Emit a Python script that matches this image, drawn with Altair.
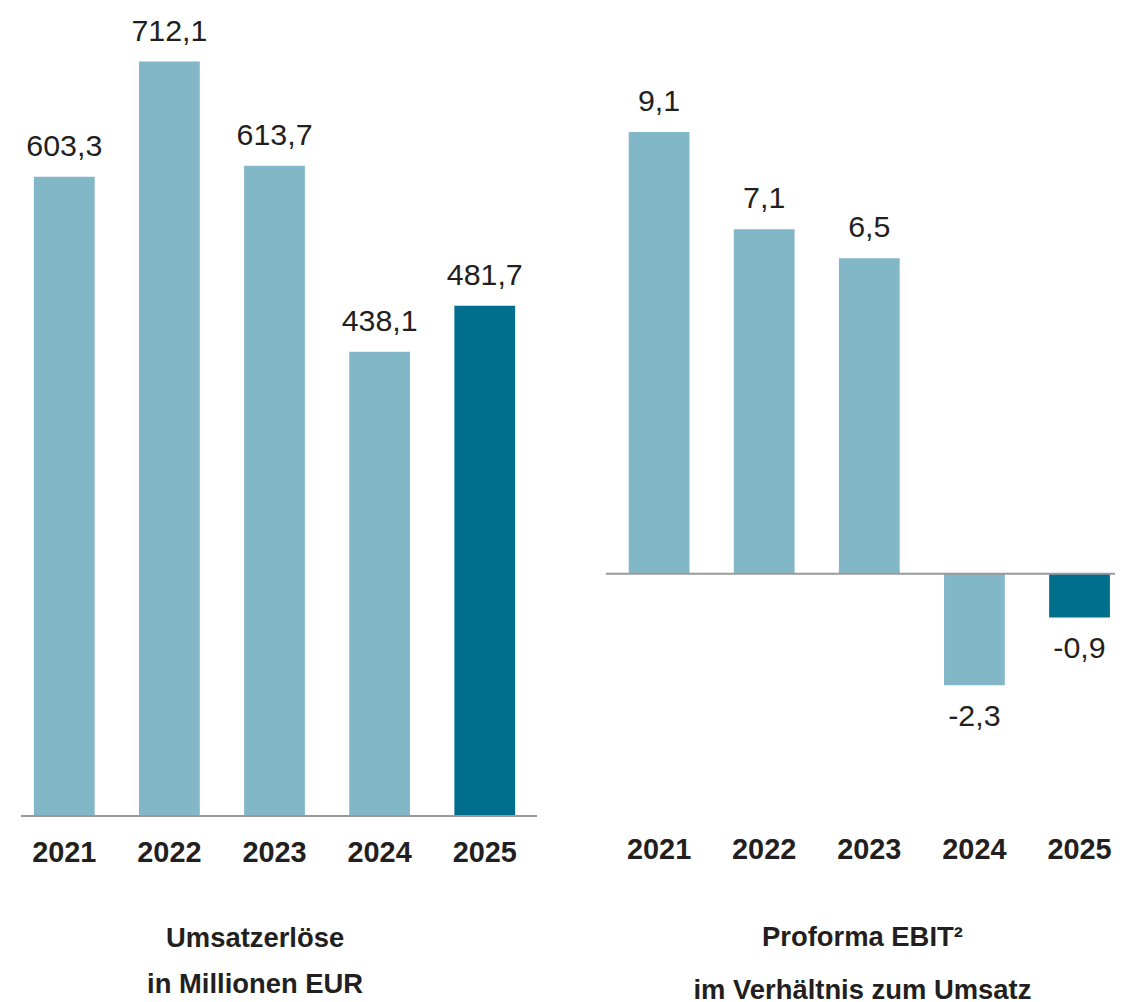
import altair as alt
import pandas as pd

# ---- data ----
years = ["2021", "2022", "2023", "2024", "2025"]
umsatz = [603.3, 712.1, 613.7, 438.1, 481.7]
ebit = [9.1, 7.1, 6.5, -2.3, -0.9]
title_left = ["Umsatzerlöse", "in Millionen EUR"]
title_right = ["Proforma EBIT²", "im Verhältnis zum Umsatz"]

LIGHT = "#82b7c7"
DARK = "#006f8e"
TXT = "#231f20"
LINE = "#9a9a9a"
FONT = "Liberation Sans"


def fmt(v):
    return f"{v:.1f}".replace(".", ",")


df_l = pd.DataFrame({"year": years, "v": umsatz, "lab": [fmt(v) for v in umsatz]})
df_r = pd.DataFrame({"year": years, "v": ebit, "lab": [fmt(v) for v in ebit]})

H = 809


def panel(df, width, domain, pinner, pouter, align, label_pad, titles, tdx, toff, tlh):
    xs = alt.X(
        "year:N",
        sort=years,
        scale=alt.Scale(paddingInner=pinner, paddingOuter=pouter, align=align),
        axis=alt.Axis(
            title=None, domain=False, ticks=False, labelAngle=0,
            labelFont=FONT, labelFontSize=29, labelFontWeight="bold",
            labelColor=TXT, labelPadding=label_pad,
            grid=False,
        ),
    )
    ys = alt.Y("v:Q", scale=alt.Scale(domain=domain, nice=False, zero=True), axis=None)
    base = alt.Chart(df).encode(x=xs, y=ys)
    bars = base.mark_bar(size=61).encode(
        color=alt.condition(alt.datum.year == "2025", alt.value(DARK), alt.value(LIGHT))
    )
    pos = base.transform_filter("datum.v >= 0").mark_text(
        font=FONT, fontSize=30.5, color=TXT, baseline="alphabetic", dy=-21
    ).encode(text="lab:N")
    neg = base.transform_filter("datum.v < 0").mark_text(
        font=FONT, fontSize=30.5, color=TXT, baseline="alphabetic", dy=41
    ).encode(text="lab:N")
    rule = alt.Chart(pd.DataFrame({"z": [0]})).mark_rule(
        color=LINE, strokeWidth=2
    ).encode(y=alt.Y("z:Q", axis=None))
    return alt.layer(bars, rule, pos, neg).properties(
        width=width,
        height=H,
        title=alt.TitleParams(
            text=titles, orient="bottom", anchor="middle", frame="group",
            font=FONT, fontSize=27.5, fontWeight="bold", color=TXT,
            lineHeight=tlh, offset=toff, dx=tdx,
        ),
    )


left = panel(df_l, 518, [0, 761], 0.42, 0.165, 0.37, 23, title_left, -24, 58, 46)
right = panel(df_r, 511, [-4.99, 11.62], 0.42, 0.132, 0.82, 20, title_right, 2, 60, 53)

chart = (
    alt.hconcat(left, right, spacing=67)
    .properties(padding={"left": 12, "top": 0, "right": 0, "bottom": 0})
    .configure_view(stroke=None)
)

chart.save("out.html", embed_options={"renderer": "svg", "actions": False})
